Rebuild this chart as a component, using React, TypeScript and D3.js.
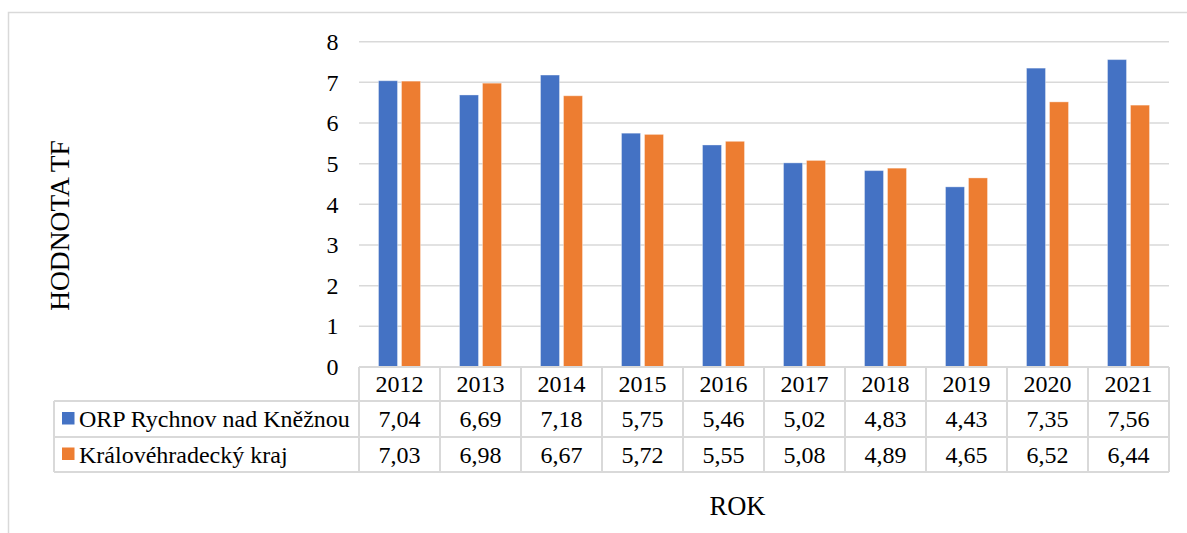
import React from "react";
import * as d3 from "d3";

const years = ["2012", "2013", "2014", "2015", "2016", "2017", "2018", "2019", "2020", "2021"];
const seriesNames = ["ORP Rychnov nad Kněžnou", "Královéhradecký kraj"];
const orpValues = [7.04, 6.69, 7.18, 5.75, 5.46, 5.02, 4.83, 4.43, 7.35, 7.56];
const krajValues = [7.03, 6.98, 6.67, 5.72, 5.55, 5.08, 4.89, 4.65, 6.52, 6.44];
const yTicks = [0, 1, 2, 3, 4, 5, 6, 7, 8];
const colors = ["#4472C4", "#ED7D31"];
const yTitle = "HODNOTA TF";
const xTitle = "ROK";

const W = 1187;
const H = 533;
const FONT = "Liberation Serif, Times New Roman, serif";
const GRID = "#D9D9D9";

export default function App() {
  const left = 359;
  const right = 1169;
  const y = d3.scaleLinear().domain([0, 8]).range([367, 41.7]);
  const x0 = d3.scaleBand<string>().domain(years).range([left, right]).padding(0);
  const bw = x0.bandwidth();
  const x1 = d3
    .scaleBand<number>()
    .domain([0, 1])
    .range([bw / 2 - 21, bw / 2 + 21])
    .paddingInner(0.174)
    .paddingOuter(0);
  const series = [orpValues, krajValues];
  const rowTop = [367, 401, 437, 472];
  const legendLeft = 54;
  const fmt = (v: number) => v.toFixed(2).replace(".", ",");

  return (
    <div style={{ position: "fixed", left: 0, top: 0, width: W, height: H, background: "#fff" }}>
      <svg width={W} height={H} fontFamily={FONT} style={{ display: "block" }}>
        <rect x={0} y={0} width={W} height={H} fill="#fff" />
        <rect x={8.5} y={12.5} width={1300} height={700} fill="none" stroke={GRID} strokeWidth={1.5} />
        {yTicks.slice(1).map((t) => (
          <line key={t} x1={left} x2={right} y1={y(t)} y2={y(t)} stroke={GRID} strokeWidth={1.5} />
        ))}
        {yTicks.map((t) => (
          <text key={t} x={338.5} y={y(t)} dy="0.34em" textAnchor="end" fontSize={24} fill="#000">
            {t}
          </text>
        ))}
        {years.map((yr, i) => (
          <g key={yr} transform={`translate(${x0(yr)},0)`}>
            {series.map((vals, s) => (
              <rect
                key={s}
                x={x1(s)}
                y={y(vals[i])}
                width={x1.bandwidth()}
                height={y(0) - y(vals[i])}
                fill={colors[s]}
                stroke="#fff"
                strokeOpacity={0.35}
                strokeWidth={1}
              />
            ))}
          </g>
        ))}
        <line x1={left} x2={right} y1={rowTop[0]} y2={rowTop[0]} stroke={GRID} strokeWidth={2} />
        {rowTop.slice(1).map((ry) => (
          <line key={ry} x1={legendLeft} x2={right} y1={ry} y2={ry} stroke={GRID} strokeWidth={2} />
        ))}
        <line x1={legendLeft} x2={legendLeft} y1={rowTop[1]} y2={rowTop[3]} stroke={GRID} strokeWidth={2} />
        {[...years.map((yr) => x0(yr) as number), right].map((vx, k) => (
          <line key={k} x1={vx} x2={vx} y1={rowTop[0]} y2={rowTop[3]} stroke={GRID} strokeWidth={2} />
        ))}
        {years.map((yr) => (
          <text
            key={yr}
            x={(x0(yr) as number) + bw / 2}
            y={(rowTop[0] + rowTop[1]) / 2}
            dy="0.34em"
            textAnchor="middle"
            fontSize={24}
            fill="#000"
          >
            {yr}
          </text>
        ))}
        {series.map((vals, s) => (
          <g key={s}>
            <rect
              x={62}
              y={(rowTop[s + 1] + rowTop[s + 2]) / 2 - 7}
              width={12.5}
              height={12.5}
              fill={colors[s]}
            />
            <text
              x={79}
              y={(rowTop[s + 1] + rowTop[s + 2]) / 2}
              dy="0.34em"
              fontSize={24}
              fill="#000"
            >
              {seriesNames[s]}
            </text>
            {vals.map((v, i) => (
              <text
                key={i}
                x={(x0(years[i]) as number) + bw / 2}
                y={(rowTop[s + 1] + rowTop[s + 2]) / 2}
                dy="0.34em"
                textAnchor="middle"
                fontSize={24}
                fill="#000"
              >
                {fmt(v)}
              </text>
            ))}
          </g>
        ))}
        <text
          transform={`translate(68.5,225.5) rotate(-90)`}
          textAnchor="middle"
          fontSize={27.5}
          fill="#000"
        >
          {yTitle}
        </text>
        <text x={737.5} y={515} textAnchor="middle" fontSize={26.5} fill="#000">
          {xTitle}
        </text>
      </svg>
    </div>
  );
}
